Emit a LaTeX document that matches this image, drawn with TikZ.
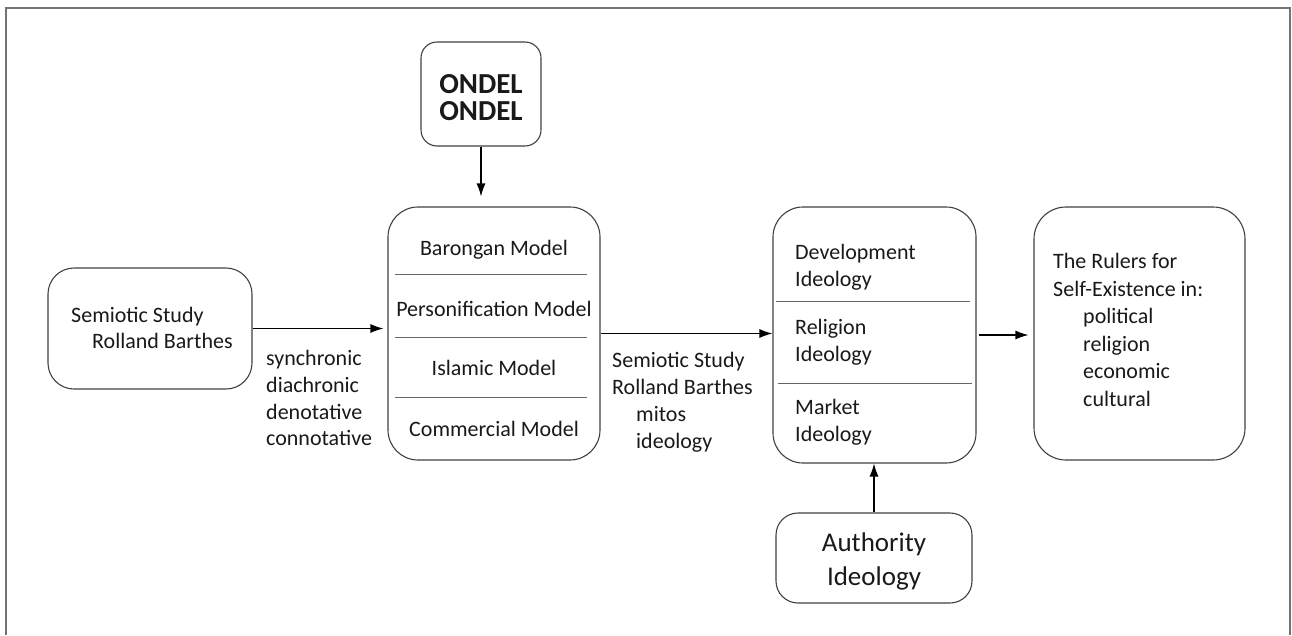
\documentclass[tikz,border=0pt]{standalone}
\usepackage{fontspec}
\setmainfont{Carlito}
\usetikzlibrary{arrows.meta}
\tikzset{
  box/.style={draw=black!75, line width=1.1pt, rounded corners=#1, inner sep=0pt},
  box/.default=28pt,
  txt/.style={inner sep=0pt, align=left, font=\fontsize{22}{26.8}\selectfont, text=black!90},
  ctxt/.style={inner sep=0pt, align=center, font=\fontsize{22}{26.5}\selectfont, text=black!90},
  divider/.style={draw=black!60, line width=0.9pt},
  arr/.style={draw=black, line width=1.2pt, -{Latex[length=13pt,width=9pt]}},
  frame/.style={draw=black!55, line width=1.5pt}
}
\begin{document}
\begin{tikzpicture}[x=1pt,y=-1pt]
\useasboundingbox (0,0) rectangle (1292,635);
\draw[frame] (6,635) -- (6,8) -- (1290,8) -- (1290,635);

% boxes
\node[box=16pt, minimum width=120pt, minimum height=104pt] (ondel) at (481,94) {};
\node[box=30pt, minimum width=212pt, minimum height=253pt] (model) at (494,333.5) {};
\node[box=30pt, minimum width=203pt, minimum height=256pt] (ideo) at (874.5,335) {};
\node[box=32pt, minimum width=211pt, minimum height=253pt] (rulers) at (1139.5,333.5) {};
\node[box=26pt, minimum width=204pt, minimum height=121pt] (semio) at (150,328.5) {};
\node[box=22pt, minimum width=196pt, minimum height=90pt] (auth) at (874,558) {};

% texts
\node[ctxt, font=\fontsize{29}{27}\bfseries\selectfont] (ondelt) at (481,98) {ONDEL\\ONDEL};
\node[txt, anchor=west] (semiot) at (71,328) {Semiotic Study\\\hspace*{21pt}Rolland Barthes};
\node[txt, anchor=north west] (lab1) at (266,350) {synchronic\\diachronic\\denotative\\connotative};
\node[txt, anchor=north west, font=\fontsize{22}{27}\selectfont] (lab2) at (612,352) {Semiotic Study\\Rolland Barthes\\\hspace*{24pt}mitos\\\hspace*{24pt}ideology};

\node[ctxt] (m1) at (494,250) {Barongan Model};
\node[ctxt] (m2) at (494,309) {Personification Model};
\node[ctxt] (m3) at (494,368) {Islamic Model};
\node[ctxt] (m4) at (494,429) {Commercial Model};
\draw[divider] (395,274) -- (587,274);
\draw[divider] (395,337) -- (587,337);
\draw[divider] (395,397) -- (587,397);

\node[txt, anchor=north west] (i1) at (795,244) {Development\\Ideology};
\node[txt, anchor=north west] (i2) at (795,319) {Religion\\Ideology};
\node[txt, anchor=north west] (i3) at (795,399) {Market\\Ideology};
\draw[divider] (776,301) -- (970,301);
\draw[divider] (778,383) -- (972,383);

\node[txt, anchor=north west, font=\fontsize{22}{27.6}\selectfont] (rt) at (1053,253) {The Rulers for\\Self-Existence in:\\\hspace*{30pt}political\\\hspace*{30pt}religion\\\hspace*{30pt}economic\\\hspace*{30pt}cultural};

\node[ctxt, font=\fontsize{27}{34}\selectfont] (autht) at (874,561) {Authority\\Ideology};

% connectors
\draw[arr, shorten >=10pt] (ondel.south) -- (ondel.south |- model.north);
\draw[arr, shorten >=4pt] (semio.east) -- (semio.east -| model.west);
\draw[arr] (model.east) -- (model.east -| ideo.west);
\draw[arr, shorten >=5pt, shorten <=2pt] (ideo.east) -- (ideo.east -| rulers.west);
\draw[arr] (auth.north) -- (auth.north |- ideo.south);
\end{tikzpicture}
\end{document}
